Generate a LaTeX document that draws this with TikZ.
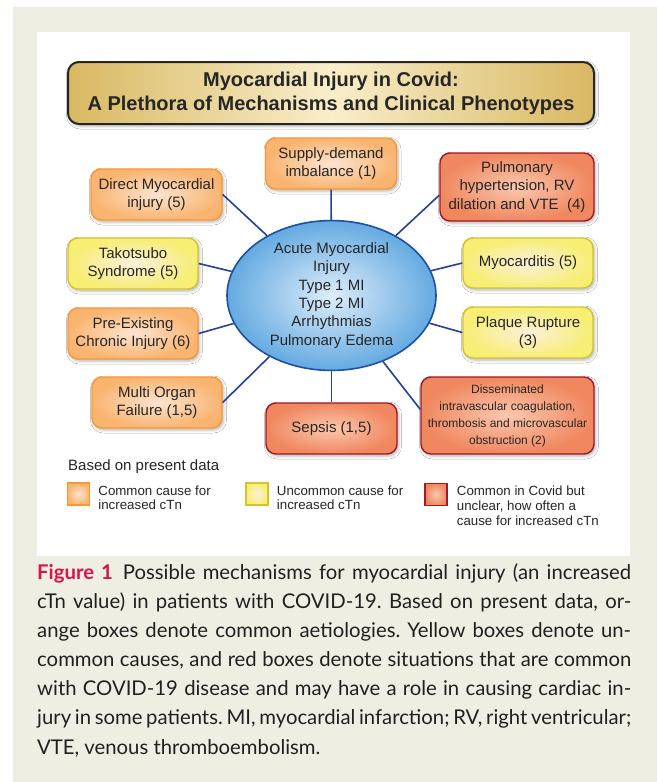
\documentclass[tikz,border=0pt]{standalone}
\usepackage{fontspec}
\setmainfont{Liberation Sans}
\newfontfamily\capfont{Lato}
\usetikzlibrary{shapes.geometric, positioning, shadows.blur}

\definecolor{pagebg}{RGB}{239,238,227}
\definecolor{txtgrey}{RGB}{38,38,38}
\definecolor{captext}{RGB}{35,31,32}
\definecolor{figred}{RGB}{214,22,75}
\definecolor{linkblue}{RGB}{35,65,150}
\definecolor{orline}{RGB}{247,152,55}
\definecolor{orin}{RGB}{253,228,208}
\definecolor{orout}{RGB}{249,180,112}
\definecolor{yeline}{RGB}{212,195,45}
\definecolor{yein}{RGB}{252,240,218}
\definecolor{yeout}{RGB}{247,238,115}
\definecolor{rdline}{RGB}{160,25,38}
\definecolor{rdin}{RGB}{250,200,175}
\definecolor{rdout}{RGB}{240,135,95}
\definecolor{hubline}{RGB}{30,80,160}
\definecolor{hubin}{RGB}{222,237,250}
\definecolor{hubout}{RGB}{100,170,225}
\definecolor{gold}{RGB}{216,184,98}
\definecolor{goldlight}{RGB}{249,238,202}

\begin{document}
\frenchspacing
\begin{tikzpicture}[
    x=1pt, y=-1pt,
    every node/.style={font=\fontsize{15}{18.4}\selectfont, text=txtgrey},
    softshadow/.style={blur shadow={shadow xshift=1.5pt, shadow yshift=-2pt, shadow blur radius=3pt, shadow opacity=30}},
    cOrange/.style={draw=orline, inner color=orin, outer color=orout},
    cYellow/.style={draw=yeline, inner color=yein, outer color=yeout},
    cRed/.style={draw=rdline, inner color=rdin, outer color=rdout},
    cause/.style={rounded corners=10pt, line width=1.4pt, minimum width=131pt, minimum height=51pt, inner sep=2pt, align=center, softshadow},
    common/.style={cause, cOrange},
    rare/.style={cause, cYellow},
    covid/.style={cause, cRed},
    hub/.style={ellipse, draw=hubline, line width=1.6pt, inner color=hubin, outer color=hubout, minimum width=209pt, minimum height=143pt, inner sep=0pt, align=center},
    titlebox/.style={draw=black!85, line width=2pt, rounded corners=11pt, minimum width=526pt, minimum height=62pt, align=center, left color=gold, right color=gold, middle color=goldlight, font=\bfseries\fontsize{20}{24}\selectfont, text=black!85, softshadow},
    link/.style={draw=linkblue, line width=1.6pt},
    legsq/.style={minimum width=22pt, minimum height=22pt, inner sep=0pt, line width=1.4pt},
    legtext/.style={font=\fontsize{13.3}{14.8}\selectfont, align=left, inner sep=0pt},
    capline/.style={font=\capfont\fontsize{20.3}{29}\selectfont, text=captext, anchor=base west, inner sep=0pt}
]
% ----- page and panel -----
\useasboundingbox (0,0) rectangle (657,782);
\fill[white] (0,0) rectangle (657,782);
\fill[pagebg] (13,7) rectangle (657,782);
\fill[white] (37,32) rectangle (630,556);

% ----- title and centre -----
\node[titlebox] (title) at (331,93) {Myocardial Injury in Covid:\\A Plethora of Mechanisms and Clinical Phenotypes};
\node[hub] (hub) at (331.5,295.5) {Acute Myocardial\\Injury\\Type 1 MI\\Type 2 MI\\Arrhythmias\\Pulmonary Edema};

% ----- mechanisms -----
\node[common] (supply) at (331,163.5) {Supply-demand\\imbalance (1)};
\node[common] (direct) at (156.5,194.5) {Direct Myocardial\\injury (5)};
\node[covid, minimum width=154pt, minimum height=68pt] (pulm) at (517,187) {Pulmonary\\hypertension, RV\\dilation and VTE\ \ (4)};
\node[rare, minimum width=130pt] (tako) at (133,263.5) {Takotsubo\\Syndrome (5)};
\node[rare, minimum width=130pt, minimum height=50pt] (myoc) at (528,263) {Myocarditis (5)};
\node[common, minimum width=130pt] (chronic) at (133,333.5) {Pre-Existing\\Chronic Injury (6)};
\node[rare, minimum width=130pt] (plaque) at (528,332.5) {Plaque Rupture\\(3)};
\node[common, minimum width=130pt] (organ) at (157,402.5) {Multi Organ\\Failure (1,5)};
\node[covid] (sepsis) at (331.5,428.5) {Sepsis (1,5)};
\node[covid, minimum width=173pt, minimum height=77pt, font=\fontsize{12}{17}\selectfont] (dic) at (507.5,415.5) {Disseminated\\intravascular coagulation,\\thrombosis and microvascular\\obstruction (2)};

% ----- spokes -----
\draw[link] (hub) -- (supply);
\draw[link] (hub) -- (direct.east);
\draw[link] (hub) -- (pulm.186);
\draw[link] (hub) -- (tako.east);
\draw[link] (hub) -- (myoc.west);
\draw[link] (hub) -- (chronic.east);
\draw[link] (hub) -- (plaque.west);
\draw[link] (hub) -- (organ.east);
\draw[link] (hub) -- (sepsis);
\draw[link] (hub) -- (dic.176);

% ----- legend -----
\node[anchor=west, inner sep=0pt] (based) at (68,467) {Based on present data};
\node[legsq, cOrange] (sqA) at (78.5,494) {};
\node[legsq, cYellow] (sqB) at (257,494) {};
\node[legsq, cRed] (sqC) at (436,494.5) {};
\node[legtext, below right=3pt and 8pt of sqA.north east] (legA) {Common cause for\\increased cTn};
\node[legtext, below right=3pt and 8pt of sqB.north east] (legB) {Uncommon cause for\\increased cTn};
\node[legtext, below right=3pt and 9pt of sqC.north east] (legC) {Common in Covid but\\unclear, how often a\\cause for increased cTn};

% ----- caption -----
\node[capline] (cap1) at (37,579) {\makebox[594pt][s]{\textbf{\color{figred}Figure 1}\enspace Possible mechanisms for myocardial injury (an increased}};
\node[capline] (cap2) at (37,608.2) {\makebox[594pt][s]{cTn value) in patients with COVID-19. Based on present data, or-}};
\node[capline] (cap3) at (37,637.3) {\makebox[594pt][s]{ange boxes denote common aetiologies. Yellow boxes denote un-}};
\node[capline] (cap4) at (37,666.5) {\makebox[594pt][s]{common causes, and red boxes denote situations that are common}};
\node[capline] (cap5) at (37,695.7) {\makebox[594pt][s]{with COVID-19 disease and may have a role in causing cardiac in-}};
\node[capline] (cap6) at (37,724.8) {\makebox[594pt][s]{jury in some patients. MI, myocardial infarction; RV, right ventricular;}};
\node[capline] (cap7) at (37,754) {VTE, venous thromboembolism.};
\end{tikzpicture}
\end{document}
